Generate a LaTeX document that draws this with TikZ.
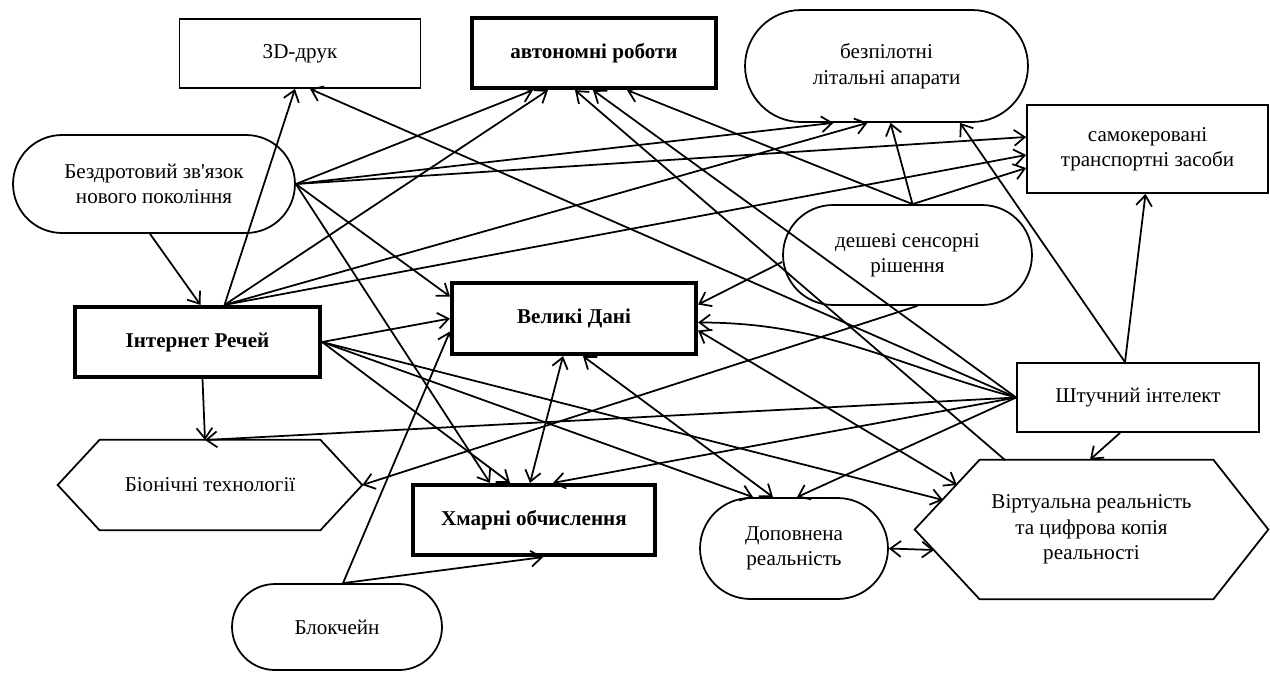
\documentclass[tikz,border=0pt]{standalone}
\usepackage{fontspec}
\setmainfont{Liberation Serif}[Ligatures=TeXOff]
\usetikzlibrary{arrows.meta,calc}
\begin{document}
\begin{tikzpicture}[x=0.02cm,y=-0.02cm,
  every node/.style={align=center,font=\fontsize{12}{14.5}\selectfont,inner sep=0pt},
  box/.style={draw,line width=1pt},
  tbox/.style={draw,line width=2.4pt,font=\fontsize{12}{14.5}\selectfont\bfseries},
  stad/.style={draw,line width=1pt,rounded corners=#1},
  hexline/.style={line width=1pt,line join=miter},
  arr/.style={-{Straight Barb[length=6pt,width=9pt]},line width=1pt},
  darr/.style={{Straight Barb[length=6pt,width=9pt]}-{Straight Barb[length=6pt,width=9pt]},line width=1pt}
]
\useasboundingbox[fill=white] (0,0) rectangle (1270,673);

\node[box,minimum width=4.82cm,minimum height=1.38cm] (D3) at (300,53.5) {3D-друк};
\node[tbox,minimum width=4.88cm,minimum height=1.40cm] (AR) at (594,53) {автономні роботи};
\node[stad=1.12cm,minimum width=5.66cm,minimum height=2.24cm] (UAV) at (886.5,66) {безпілотні\\літальні апарати};
\node[box,minimum width=4.82cm,minimum height=1.76cm] (SDV) at (1147.5,149) {самокеровані\\транспортні засоби};
\node[stad=0.98cm,minimum width=5.64cm,minimum height=1.96cm] (WL) at (154,184) {Бездротовий зв'язок\\нового покоління};
\node[stad=1cm,minimum width=4.98cm,minimum height=2cm] (CS) at (907.5,255) {дешеві сенсорні\\рішення};
\node[tbox,minimum width=4.9cm,minimum height=1.4cm] (IoT) at (197.5,342) {Інтернет Речей};
\node[tbox,minimum width=4.88cm,minimum height=1.42cm] (BD) at (574,318.5) {Великі Дані};
\node[box,minimum width=4.84cm,minimum height=1.38cm] (AI) at (1138,397.5) {Штучний інтелект};
\node[minimum width=6.08cm,minimum height=1.8cm] (BT) at (210,485) {Біонічні технології};
\node[tbox,minimum width=4.84cm,minimum height=1.4cm] (CC) at (534,520) {Хмарні обчислення};
\node[stad=1.01cm,minimum width=3.76cm,minimum height=2.02cm] (AUG) at (794,548.5) {Доповнена\\реальність};
\node[minimum width=7.06cm,minimum height=2.78cm] (VR) at (1091.5,529.5) {Віртуальна реальність\\та цифрова копія\\реальності};
\node[stad=0.86cm,minimum width=4.2cm,minimum height=1.72cm] (BC) at (337,627) {Блокчейн};

\draw[hexline] (BT.west) -- ($(BT.north west)+(42,0)$) -- ($(BT.north east)+(-42,0)$) -- (BT.east) -- ($(BT.south east)+(-42,0)$) -- ($(BT.south west)+(42,0)$) -- cycle;
\draw[hexline] (VR.west) -- ($(VR.north west)+(65,0)$) -- ($(VR.north east)+(-55,0)$) -- (VR.east) -- ($(VR.south east)+(-55,0)$) -- ($(VR.south west)+(65,0)$) -- cycle;

% edges
\draw[arr] ($(WL.south)+(-4,0)$) -- ($(IoT.north)+(3,0)$);
\draw[arr] ($(IoT.north)+(27,0)$) -- ($(D3.south)+(-5,0)$);
\draw[arr] ($(IoT.north)+(27,0)$) -- ($(AR.south)+(-46,0)$);
\draw[arr] ($(IoT.north)+(27,0)$) -- ($(UAV.south)+(-19,0)$);
\draw[arr] ($(IoT.north)+(27,0)$) -- ($(SDV.west)+(0,6)$);
\draw[arr] (WL.east) -- ($(AR.south)+(-61,0)$);
\draw[arr] (WL.east) -- ($(UAV.south)+(-53,0)$);
\draw[arr] (WL.east) -- ($(SDV.west)+(0,-12)$);
\draw[arr] (WL.east) -- ($(BD.west)+(0,-22)$);
\draw[arr] (WL.east) -- ($(CC.north)+(-44,0)$);
\draw[arr] (IoT.east) -- (BD.west);
\draw[arr] (IoT.east) -- ($(CC.north)+(-24,0)$);
\draw[arr] (IoT.east) -- ($(AUG.north)+(-41,0)$);
\draw[arr] (IoT.east) -- ($(VR.center)+(-148.5,-29.5)$);
\draw[arr] ($(IoT.south)+(5,0)$) -- ($(BT.center)+(-5,-45)$);
\draw[arr] (AI.west) -- ($(D3.south)+(10,0)$);
\draw[arr] (AI.west) -- ($(AR.south)+(-1,0)$);
\draw[arr] ($(VR.center)+(-86.5,-69.5)$) -- ($(AR.south)+(-19,0)$);
\draw[arr] ($(AI.north)+(-13,0)$) -- ($(UAV.south)+(73.5,0)$);
\draw[arr] ($(AI.north)+(-13,0)$) -- ($(SDV.south)+(-2,0)$);
\draw[arr] ($(AI.south)+(-18,0)$) -- ($(VR.north)+(-1.5,0)$);
\draw[arr] (AI.west) -- ($(BT.center)+(-5,-45)$);
\draw[arr] (AI.west) -- ($(CC.north)+(19,0)$);
\draw[arr] (AI.west) -- ($(AUG.north)+(3,0)$);
\draw[arr] (AI.west) to[out=165,in=0] ($(BD.east)+(0,4)$);
\draw[arr] ($(CS.north)+(5,0)$) -- ($(UAV.south)+(4,0)$);
\draw[arr] ($(CS.north)+(5,0)$) -- ($(SDV.west)+(0,19)$);
\draw[arr] ($(CS.north)+(5,0)$) -- ($(AR.south)+(33,0)$);
\draw[arr] ($(CS.west)+(0,7)$) -- ($(BD.east)+(0,-14)$);
\draw[arr] ($(CS.south)+(10,0)$) -- (BT.east);
\draw[arr] ($(BC.north)+(6,0)$) -- ($(BD.west)+(0,13)$);
\draw[arr] ($(BC.north)+(6,0)$) -- ($(CC.south)+(9,0)$);
\draw[darr] ($(BD.south)+(-11,0)$) -- ($(CC.north)+(-4,0)$);
\draw[darr] ($(BD.south)+(9,0)$) -- ($(AUG.north)+(-21,0)$);
\draw[darr] ($(BD.east)+(0,12)$) -- ($(VR.center)+(-134.5,-44.5)$);
\draw[darr] (AUG.east) -- ($(VR.center)+(-157.5,20.5)$);
\end{tikzpicture}
\end{document}
